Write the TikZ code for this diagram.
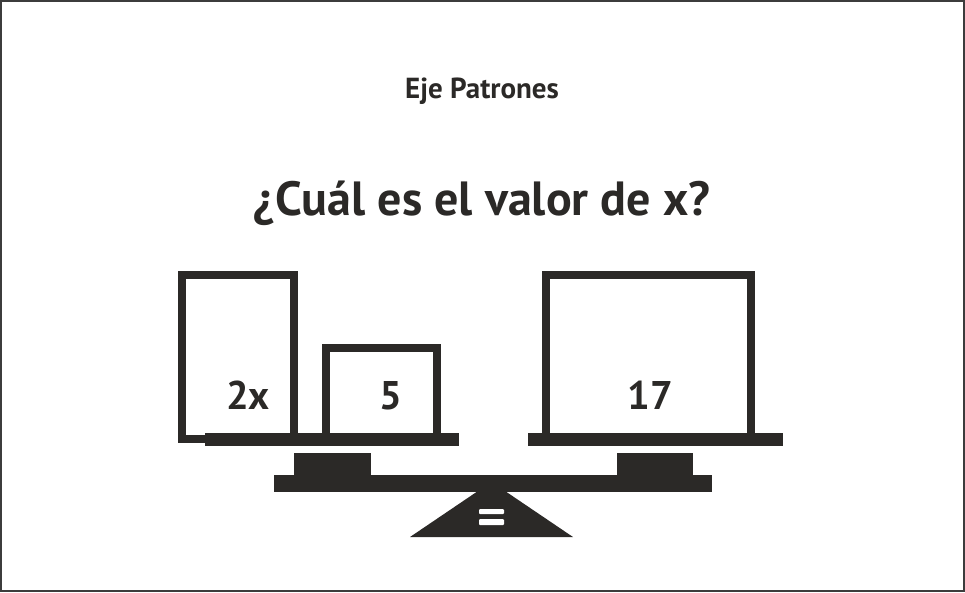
\documentclass[tikz,border=0pt]{standalone}
\usepackage{fontspec}
\setmainfont{PT Sans}
\definecolor{inkgray}{RGB}{43,41,39}
\definecolor{framegray}{RGB}{60,60,60}

\begin{document}
\begin{tikzpicture}[x=1pt, y=-1pt,
    box/.style={draw=inkgray, line width=8pt},
    slab/.style={fill=inkgray},
    num/.style={inkgray, anchor=base, font=\bfseries\fontsize{40}{44}\selectfont}]
    % Frame
    \draw[framegray, line width=2pt] (1,1) rectangle (964,591);
    \useasboundingbox (0,0) rectangle (965,592);

    % Titles
    \node[inkgray, anchor=base, font=\bfseries\fontsize{29}{32}\selectfont] (axis) at (482,98) {Eje Patrones};
    \node[inkgray, anchor=base, font=\bfseries\fontsize{48}{52}\selectfont] (question) at (482,215) {¿Cuál es el valor de x?};

    % Weights on the pans
    \draw[box] (182,439) -- (182,275) -- (294,275) -- (294,439) -- cycle;
    \draw[box] (326,436) -- (326,348) -- (437,348) -- (437,436);
    \draw[box] (546,436) -- (546,275) -- (751,275) -- (751,436);
    \node[num] (twox) at (248,409) {2x};
    \node[num] (five) at (391,409) {5};
    \node[num] (seventeen) at (650,409) {17};

    % Pans and supports
    \fill[slab] (205,433) rectangle (459,446);
    \fill[slab] (528,433) rectangle (783,446);
    \fill[slab] (294,453) rectangle (371,475);
    \fill[slab] (617,453) rectangle (693,475);

    % Beam and pivot
    \fill[slab] (274,475) rectangle (712,492);
    \fill[slab] (478,491) -- (505,491) -- (573,537) -- (410,537) -- cycle;
    \fill[white, rounded corners=1pt] (479,509) rectangle (504,514);
    \fill[white, rounded corners=1pt] (479,519) rectangle (504,525);
\end{tikzpicture}
\end{document}
